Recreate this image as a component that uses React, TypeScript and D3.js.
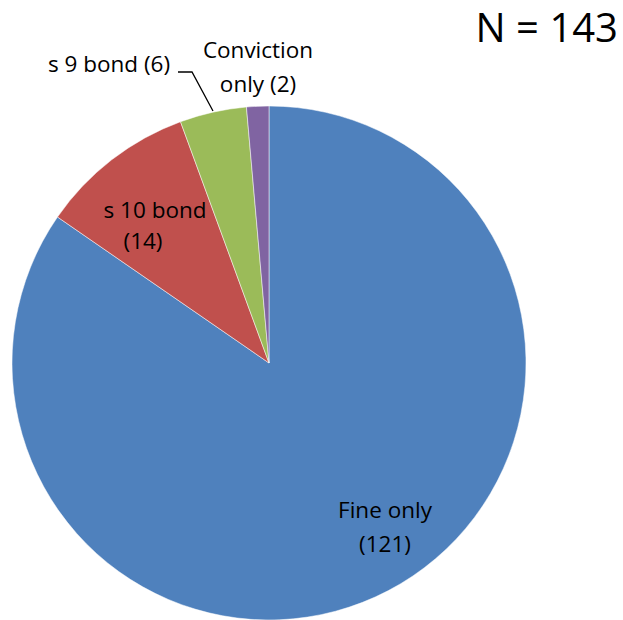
import React from "react";
import * as d3 from "d3";

const categories = ["Fine only", "s 10 bond", "s 9 bond", "Conviction only"];
const values = [121, 14, 6, 2];
const colors = ["#4F81BD", "#C0504D", "#9BBB59", "#8064A2"];
const totalLabel = "N = 143";

const W = 623;
const H = 620;
const cx = 269;
const cy = 363;
const R = 257;
const FONT = "Open Sans, Noto Sans, sans-serif";

export default function App() {
  const pie = d3.pie<number>().sort(null).startAngle(0).endAngle(2 * Math.PI);
  const arcs = pie(values);
  const arc = d3.arc<d3.PieArcDatum<number>>().innerRadius(0).outerRadius(R);

  return (
    <svg width={W} height={H} style={{ position: "absolute", left: 0, top: 0 }}>
      <rect width={W} height={H} fill="#ffffff" />
      <g transform={`translate(${cx},${cy})`}>
        {arcs.map((a, i) => (
          <path key={i} d={arc(a) || ""} fill={colors[i]} stroke="#ffffff" strokeWidth={0.5} />
        ))}
      </g>
      <g fontFamily={FONT} fontSize={22.5} fill="#000" textAnchor="middle">
        <text x={385} y={518}>{categories[0]}</text>
        <text x={385} y={552}>({values[0]})</text>
        <text x={155} y={218}>{categories[1]}</text>
        <text x={143} y={249}>({values[1]})</text>
        <text x={109} y={72}>{categories[2]} ({values[2]})</text>
        <text x={258} y={58}>Conviction</text>
        <text x={258} y={92}>only ({values[3]})</text>
      </g>
      <polyline points="178,72 192,72 213,111" fill="none" stroke="#000" strokeWidth={1.3} />
      <text x={618} y={42} textAnchor="end" fontFamily={FONT} fontSize={40} fill="#000">
        {totalLabel}
      </text>
    </svg>
  );
}
